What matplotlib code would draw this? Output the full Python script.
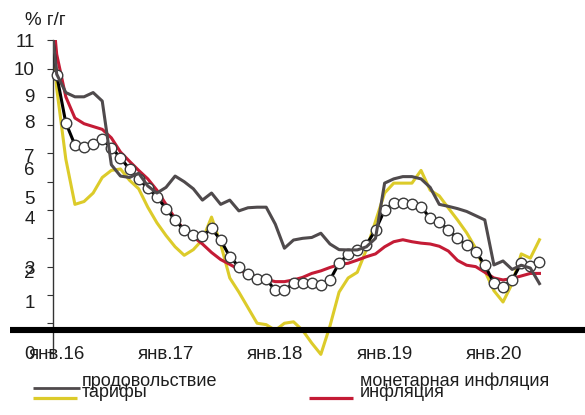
import matplotlib
matplotlib.use("Agg")
import matplotlib.pyplot as plt
from matplotlib.lines import Line2D

plt.rcParams['font.family'] = ['Liberation Sans', 'DejaVu Sans']

# month index: -1 = dec 2015, 0 = jan 2016 ... 53 = jun 2020
months = list(range(-1, 54))

food = [13.0, 9.8, 9.15, 9.0, 9.0, 9.15, 8.85, 6.6, 6.2, 6.15, 6.3,
        5.85, 5.6, 5.8, 6.2, 6.0, 5.75, 5.35, 5.6, 5.2, 5.35,
        4.97, 5.08, 5.1, 5.1, 4.5, 3.65, 3.94, 4.0, 4.03, 4.18,
        3.8, 3.6, 3.59, 3.59, 3.7, 4.0, 5.95, 6.1, 6.18, 6.18,
        6.1, 5.8, 5.2, 5.13, 5.05, 4.95, 4.8, 4.65, 3.06, 3.2,
        2.9, 3.05, 2.95, 2.4]

tariffs = [13.5, 9.3, 6.8, 5.2, 5.3, 5.6, 6.15, 6.4, 6.45, 6.05, 5.75,
           5.1, 4.55, 4.1, 3.7, 3.4, 3.6, 3.95, 4.75, 3.8, 2.6,
           2.1, 1.55, 1.0, 0.95, 0.75, 1.0, 1.05, 0.75, 0.3, -0.1,
           0.9, 2.1, 2.6, 2.8, 3.6, 4.6, 5.6, 5.95, 5.95, 5.95,
           6.4, 5.7, 5.5, 5.07, 4.65, 4.2, 3.65, 2.85, 2.15, 1.75,
           2.4, 3.45, 3.3, 3.95]

monetary = [12.9, 9.77, 8.08, 7.3, 7.24, 7.32, 7.5, 7.2, 6.85, 6.44, 6.08,
            5.79, 5.47, 5.05, 4.65, 4.29, 4.12, 4.08, 4.35, 3.94, 3.35,
            3.0, 2.74, 2.57, 2.55, 2.17, 2.17, 2.41, 2.43, 2.43, 2.35,
            2.53, 3.12, 3.44, 3.6, 3.78, 4.29, 5.0, 5.24, 5.26, 5.2,
            5.12, 4.71, 4.59, 4.29, 4.0, 3.76, 3.53, 3.06, 2.41, 2.29,
            2.53, 3.12, 3.02, 3.17]

inflation = [14.0, 10.5, 9.0, 8.25, 8.05, 7.95, 7.85, 7.55, 7.05, 6.72, 6.4,
             6.1, 5.7, 5.2, 4.7, 4.3, 4.05, 3.8, 3.5, 3.25, 3.08,
             2.9, 2.72, 2.63, 2.55, 2.47, 2.47, 2.53, 2.62, 2.76, 2.85,
             2.97, 3.07, 3.12, 3.23, 3.35, 3.45, 3.7, 3.88, 3.95, 3.88,
             3.83, 3.8, 3.72, 3.55, 3.22, 3.05, 3.0, 2.8, 2.6, 2.53,
             2.58, 2.67, 2.76, 2.76]

x_tick_pos = [0, 12, 24, 36, 48]
x_tick_labels = ['янв.16', 'янв.17', 'янв.18', 'янв.19', 'янв.20']
y_ticks = list(range(0, 12))
y_tick_labels = ['0', '1', '2', '3', '4', '5', '6', '7', '8', '9', '10', '11']
# pixel baselines of the (misplaced) y labels in the original picture
y_label_base = [358.5, 308.3, 278.5, 273.5, 223.5, 203.5, 175.0, 161.8, 128.5, 101.8, 75.3, 46.8]

series_names = ['продовольствие', 'тарифы', 'монетарная инфляция', 'инфляция']

W, H = 585, 415
C_FOOD = '#4f4a4c'
C_TAR = '#dccb2a'
C_RED = '#c41b35'
C_TXT = '#1e1e1e'

def fx(px):
    return px / W

def fy(py):
    return 1 - py / H

fig = plt.figure(figsize=(W / 100, H / 100), dpi=100)
ax = fig.add_axes([fx(53.3), fy(357.2), (W - 53.3) / W, (357.2 - 40.2) / H])
ax.set_xlim(-0.373, 58.0)
ax.set_ylim(-0.2, 11.0)

lw = 2.2
ax.plot(months, tariffs, color=C_TAR, lw=lw, zorder=2)
ax.plot(months, inflation, color=C_RED, lw=lw, zorder=3)
ax.plot(months, monetary, color='black', lw=lw, zorder=4)
ax.plot(months[1:], monetary[1:], linestyle='none', marker='o', ms=7.6,
        mfc='white', mec='#3a3a3a', mew=1.0, zorder=5, clip_on=False)
ax.plot(months, food, color=C_FOOD, lw=lw, zorder=6)

for s in ['top', 'right', 'bottom']:
    ax.spines[s].set_visible(False)
ax.spines['left'].set_color('#333333')
ax.spines['left'].set_linewidth(1.0)
ax.set_yticks(y_ticks)
ax.set_yticklabels([''] * len(y_ticks))
ax.tick_params(axis='y', direction='out', length=4.3, width=0.8, colors='#333333')
ax.set_xticks([])

# y labels as drawn in the original
for lab, yb in zip(y_tick_labels, y_label_base):
    fig.text(fx(34.8), fy(yb), lab, ha='right', va='baseline', fontsize=13.5, color=C_TXT)

# x labels
for pos, lab in zip(x_tick_pos, x_tick_labels):
    ax.text(pos, 0, lab, transform=ax.get_xaxis_transform(), ha='center', va='baseline',
            fontsize=13.5, color=C_TXT, clip_on=False)
# move x labels baseline to pixel 359
for t in ax.texts:
    t.set_transform(matplotlib.transforms.blended_transform_factory(ax.transData, fig.transFigure))
    t.set_y(fy(359))

fig.text(fx(25), fy(25), '% г/г', ha='left', va='baseline', fontsize=13.5, color=C_TXT)

# thick horizontal bar
fig.add_artist(Line2D([fx(10), fx(585)], [fy(329.5), fy(329.5)], color='black', lw=4.4,
                      solid_capstyle='butt', zorder=10))

# legend (manual, as in original)
fig.add_artist(Line2D([fx(32.7), fx(80)], [fy(388.3)] * 2, color=C_FOOD, lw=2.0, solid_capstyle='butt'))
fig.add_artist(Line2D([fx(32.7), fx(77)], [fy(398.3)] * 2, color=C_TAR, lw=2.3, solid_capstyle='butt'))
fig.add_artist(Line2D([fx(309.3), fx(353.3)], [fy(398.3)] * 2, color=C_RED, lw=2.3, solid_capstyle='butt'))
fig.text(fx(81.7), fy(385.7), series_names[0], ha='left', va='baseline', fontsize=13, color=C_TXT)
fig.text(fx(81.7), fy(397.3), series_names[1], ha='left', va='baseline', fontsize=13, color=C_TXT)
fig.text(fx(360), fy(385.7), series_names[2], ha='left', va='baseline', fontsize=13, color=C_TXT)
fig.text(fx(360), fy(397.3), series_names[3], ha='left', va='baseline', fontsize=13, color=C_TXT)

fig.savefig('out.png', dpi=100)
